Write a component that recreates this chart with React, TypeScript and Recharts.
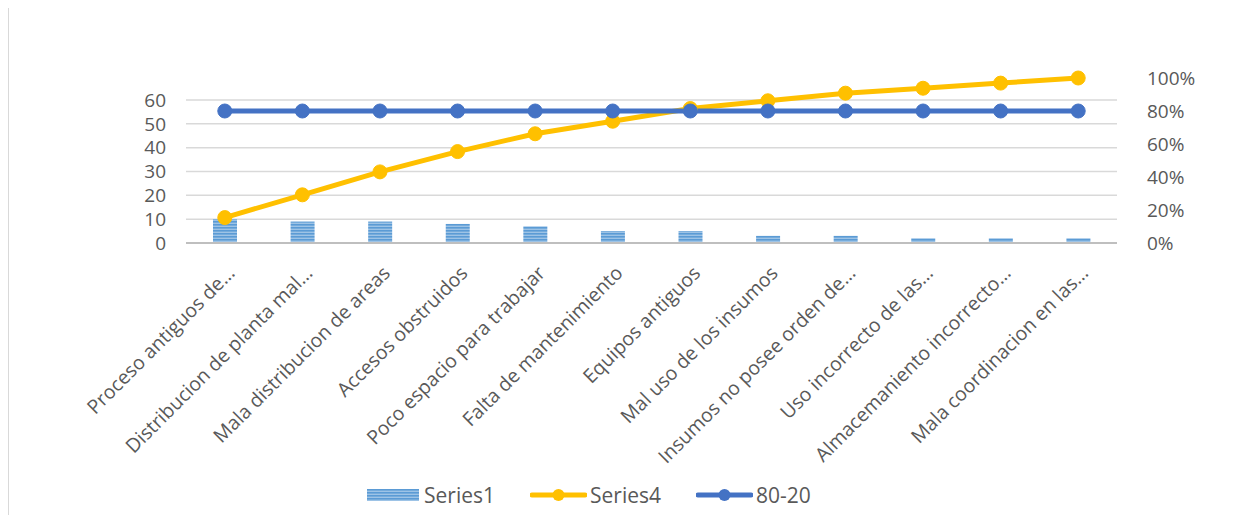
import React from "react";
import {
  ComposedChart,
  Bar,
  Line,
  XAxis,
  YAxis,
  CartesianGrid,
  Legend,
} from "recharts";

const categories = [
  "Proceso antiguos de…",
  "Distribucion de planta mal…",
  "Mala distribucion de areas",
  "Accesos obstruidos",
  "Poco espacio para trabajar",
  "Falta de mantenimiento",
  "Equipos antiguos",
  "Mal uso de los insumos",
  "Insumos no posee orden de…",
  "Uso incorrecto de las…",
  "Almacemaniento incorrecto…",
  "Mala coordinacion en las…",
];
const series1 = [10, 9, 9, 8, 7, 5, 5, 3, 3, 2, 2, 2];
const series4 = [0.154, 0.292, 0.431, 0.554, 0.662, 0.738, 0.815, 0.862, 0.908, 0.938, 0.969, 1.0];
const series8020 = [0.8, 0.8, 0.8, 0.8, 0.8, 0.8, 0.8, 0.8, 0.8, 0.8, 0.8, 0.8];
const leftTicks = [0, 10, 20, 30, 40, 50, 60];
const leftMax = 69.23;
const rightTicks = [0, 0.2, 0.4, 0.6, 0.8, 1.0];

const data = categories.map((c, i) => ({
  name: c,
  Series1: series1[i],
  Series4: series4[i],
  "80-20": series8020[i],
}));

const FONT = "'Open Sans', sans-serif";
const TXT = "#595959";

const gridGen = (p: any) => {
  const s = p && p.yAxis ? p.yAxis.scale : undefined;
  let f: (v: number) => number;
  if (typeof s === "function") f = s;
  else if (s && typeof s.map === "function") f = (v) => s.map(v);
  else if (s && typeof s.apply === "function") f = (v) => s.apply(v);
  else {
    const o = p.offset;
    f = (v) => o.top + o.height * (1 - v / leftMax);
  }
  return leftTicks.map((t) => f(t));
};

const XTick = (props: any) => {
  const { x, y, payload } = props;
  return (
    <g transform={`translate(${x + 6},${y + 26})`}>
      <text
        textAnchor="end"
        transform="rotate(-45)"
        fill={TXT}
        fontSize={19.5}
        fontFamily={FONT}
        dominantBaseline="central"
      >
        {payload.value}
      </text>
    </g>
  );
};

const LegendContent = () => {
  const item = (icon: React.ReactNode, label: string, gap: number, mr: number) => (
    <div style={{ display: "flex", alignItems: "center", marginRight: mr }}>
      {icon}
      <span style={{ fontFamily: FONT, fontSize: 21, color: TXT, marginLeft: gap, lineHeight: "30px" }}>{label}</span>
    </div>
  );
  return (
    <div style={{ display: "flex", justifyContent: "flex-start", alignItems: "center", height: 30, paddingLeft: 241 }}>
      {item(
        <svg width={52} height={12} style={{ display: "block" }}>
          <rect x={0} y={0} width={52} height={12} fill="url(#stripes)" />
        </svg>,
        "Series1",
        5,
        35
      )}
      {item(
        <svg width={57} height={16} style={{ display: "block" }}>
          <line x1={2} y1={8} x2={55} y2={8} stroke="#FFC000" strokeWidth={5} strokeLinecap="round" />
          <circle cx={28.5} cy={8} r={6} fill="#FFC000" />
        </svg>,
        "Series4",
        3,
        35
      )}
      {item(
        <svg width={57} height={16} style={{ display: "block" }}>
          <line x1={2} y1={8} x2={55} y2={8} stroke="#4472C4" strokeWidth={5} strokeLinecap="round" />
          <circle cx={28.5} cy={8} r={6} fill="#4472C4" />
        </svg>,
        "80-20",
        3,
        0
      )}
    </div>
  );
};

export default function App() {
  return (
    <div
      style={{
        width: 1222,
        height: 520,
        marginTop: -1,
        border: "1px solid #D9D9D9",
        background: "#fff",
        position: "relative",
      }}
    >
      <svg width={0} height={0} style={{ position: "absolute" }}>
        <defs>
          <pattern id="stripes" width={8} height={3} patternUnits="userSpaceOnUse">
            <rect x={0} y={0} width={8} height={3} fill="#9DC3E6" />
            <rect x={0} y={0} width={8} height={1.6} fill="#5B9BD5" />
          </pattern>
        </defs>
      </svg>
      <ComposedChart
        width={1222}
        height={510}
        data={data}
        margin={{ top: 70, right: 39, left: 117, bottom: 8 }}
      >
        <defs>
          <pattern id="stripesBar" width={8} height={3} patternUnits="userSpaceOnUse">
            <rect x={0} y={0} width={8} height={3} fill="#9DC3E6" />
            <rect x={0} y={0} width={8} height={1.6} fill="#5B9BD5" />
          </pattern>
        </defs>
        <CartesianGrid
          yAxisId="left"
          vertical={false}
          stroke="#D9D9D9"
          strokeWidth={1.5}
          horizontalCoordinatesGenerator={gridGen}
        />
        <XAxis
          dataKey="name"
          interval={0}
          height={237}
          tickLine={false}
          tickSize={0}
          tickMargin={0}
          axisLine={{ stroke: "#BFBFBF", strokeWidth: 2 }}
          tick={<XTick />}
        />
        <YAxis
          yAxisId="left"
          orientation="left"
          width={60}
          domain={[0, leftMax]}
          ticks={leftTicks}
          interval={0}
          axisLine={false}
          tickLine={false}
          tickMargin={14}
          tick={{ fill: TXT, fontSize: 19, fontFamily: FONT }}
        />
        <YAxis
          yAxisId="right"
          orientation="right"
          width={75}
          domain={[0, 1]}
          ticks={rightTicks}
          interval={0}
          axisLine={false}
          tickLine={false}
          tickMargin={24}
          tickFormatter={(v: number) => `${Math.round(v * 100)}%`}
          tick={{ fill: TXT, fontSize: 19, fontFamily: FONT, textAnchor: "start" }}
        />
        <Bar
          yAxisId="left"
          dataKey="Series1"
          barSize={24}
          fill="url(#stripesBar)"
          isAnimationActive={false}
        />
        <Line
          yAxisId="right"
          dataKey="Series4"
          stroke="#FFC000"
          strokeWidth={5}
          dot={{ r: 7, fill: "#FFC000", stroke: "#FFC000", strokeWidth: 1 }}
          activeDot={false}
          isAnimationActive={false}
        />
        <Line
          yAxisId="right"
          dataKey="80-20"
          stroke="#4472C4"
          strokeWidth={5}
          dot={{ r: 7, fill: "#4472C4", stroke: "#4472C4", strokeWidth: 1 }}
          activeDot={false}
          isAnimationActive={false}
        />
        <Legend verticalAlign="bottom" height={30} content={<LegendContent />} />
      </ComposedChart>
    </div>
  );
}
